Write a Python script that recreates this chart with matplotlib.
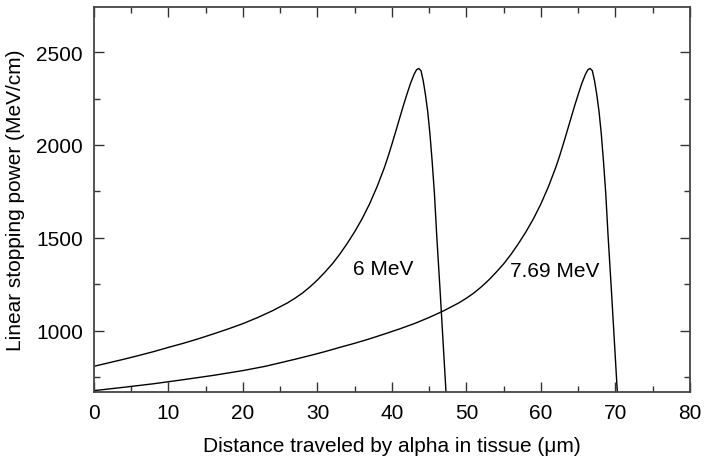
import matplotlib
matplotlib.use("Agg")
import matplotlib.pyplot as plt
from matplotlib.ticker import MultipleLocator

# Bragg curves
x_6mev = [0, 2, 4, 6, 8, 10, 12, 14, 16, 18, 20, 22, 24, 26, 27, 28, 29, 30,
          31, 32, 33, 34, 35, 36, 37, 38, 39, 39.5, 40, 40.5, 41, 41.5, 42,
          42.5, 43, 43.3, 43.6, 43.9, 44.2, 44.5, 44.8, 45.1, 45.4, 45.7, 46,
          46.5, 47, 47.4]
y_6mev = [808, 827, 846, 866, 887, 910, 932, 956, 982, 1009, 1038, 1071,
          1108, 1150, 1175, 1203, 1236, 1273, 1315, 1360, 1412, 1470, 1533,
          1603, 1683, 1775, 1880, 1940, 2005, 2072, 2140, 2208, 2272, 2333,
          2383, 2405, 2412, 2400, 2345, 2270, 2180, 2060, 1910, 1740, 1520,
          1190, 845, 570]

x_769mev = [0, 4, 8, 12, 16, 20, 23, 25, 27, 29, 31, 33, 35, 37, 39, 41, 43,
            45, 47, 49, 50, 51, 52, 53, 54, 55, 56, 57, 58, 59, 60, 61, 62,
            62.5, 63, 63.5, 64, 64.5, 65, 65.5, 66, 66.3, 66.6, 66.9, 67.2,
            67.5, 67.8, 68.1, 68.4, 68.7, 69, 69.5, 70, 70.4]
y_769mev = [677, 695, 714, 736, 759, 785, 808, 827, 846, 866, 887, 910, 932,
            956, 982, 1009, 1038, 1071, 1108, 1150, 1175, 1203, 1236, 1273,
            1315, 1360, 1412, 1470, 1533, 1603, 1683, 1775, 1880, 1940, 2005,
            2072, 2140, 2208, 2272, 2333, 2383, 2405, 2412, 2400, 2345, 2270,
            2180, 2060, 1910, 1740, 1520, 1190, 845, 570]

labels = ["6 MeV", "7.69 MeV"]
label_pos = [(38.8, 1335), (61.9, 1325)]

plt.rcParams["font.family"] = ["Liberation Sans", "DejaVu Sans"]
plt.rcParams["font.size"] = 15

fig = plt.figure(figsize=(7.04, 4.60), dpi=100)
ax = fig.add_axes([0.1335, 0.1450, 0.8465, 0.8376])

ax.plot(x_6mev, y_6mev, color="black", lw=1.0)
ax.plot(x_769mev, y_769mev, color="black", lw=1.0)

for text, (tx, ty) in zip(labels, label_pos):
    ax.text(tx, ty, text, ha="center", va="center", fontsize=15)

ax.set_xlim(0, 80)
ax.set_ylim(668, 2743)
ax.xaxis.set_major_locator(MultipleLocator(10))
ax.xaxis.set_minor_locator(MultipleLocator(5))
ax.yaxis.set_major_locator(MultipleLocator(500))
ax.yaxis.set_minor_locator(MultipleLocator(250))
ax.tick_params(which="both", direction="in", top=True, right=True,
               labelsize=15, color="#333333", width=1.0)
ax.tick_params(which="major", length=7, pad=8)
ax.tick_params(which="minor", length=4)
for s in ax.spines.values():
    s.set_color("#444444")
    s.set_linewidth(1.3)

ax.set_xlabel("Distance traveled by alpha in tissue (\u03bcm)", fontsize=15, labelpad=10)
ax.set_ylabel("Linear stopping power (MeV/cm)", fontsize=15, labelpad=8)

fig.savefig("out.png", dpi=100)
